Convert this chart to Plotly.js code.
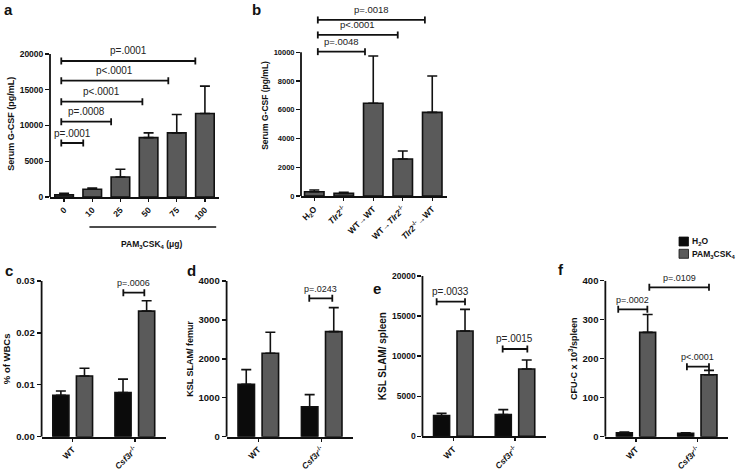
<!DOCTYPE html>
<html><head><meta charset="utf-8">
<script src="https://cdn.plot.ly/plotly-3.0.1.min.js"></script>
<style>html,body{margin:0;padding:0;background:#fff;}#chart{width:744px;height:472px;}</style>
</head><body><div id="chart"></div>
<script>
// ---------- DATA ----------
// panel a : serum G-CSF vs PAM3CSK4 dose
const doseCats = ['0','10','25','50','75','100'];
const doseGcsf = [300,1075,2800,8300,8970,11680];
const doseGcsfErr = [200,185,1080,670,2570,3830];
const doseBrX0 = [-0.1,-0.1,-0.1,-0.1,-0.1];
const doseBrX1 = [0.68,1.67,2.78,3.7,4.66];
const doseBrY = [7550,10530,13330,16270,19020];
const doseBrP = ['p=.0001','p=.0008','p<.0001','p<.0001','p=.0001'];

// panel b : chimeras
const chimCats = ['H2O','Tlr2-/-','WT→WT','WT→Tlr2-/-','Tlr2-/-→WT'];
const chimLabels = ['H<sub>2</sub>O','<i>Tlr2</i><sup>-/-</sup>','WT→WT','WT→<i>Tlr2</i><sup>-/-</sup>','<i>Tlr2</i><sup>-/-</sup>→WT'];
const chimGcsf = [300,185,6450,2575,5820];
const chimGcsfErr = [120,70,3290,555,2530];
const chimBrX0 = [0.12,0.12,0.12];
const chimBrX1 = [1.72,2.83,3.75];
const chimBrY = [10046,11206,12250];
const chimBrP = ['p=.0048','p<.0001','p=.0018'];

// panels c-f : genotypes, H2O vs PAM3CSK4
const genoCats = ['WT','Csf3r-/-'];
const genoLabels = ['WT','<i>Csf3r</i><sup>-/-</sup>'];
const seriesNames = ['H<sub>2</sub>O','PAM<sub>3</sub>CSK<sub>4</sub>'];

const wbcH2O = [0.0080,0.0085];   const wbcH2OErr = [0.0008,0.0026];
const wbcPAM = [0.0117,0.0242];   const wbcPAMErr = [0.0015,0.0020];
const wbcBrX0 = [0.815]; const wbcBrX1 = [1.153]; const wbcBrY = [0.02775]; const wbcBrP = ['p=.0006'];

const femH2O = [1345,771];   const femH2OErr = [377,309];
const femPAM = [2142,2700];  const femPAMErr = [540,616];
const femBrX0 = [0.804]; const femBrX1 = [1.167]; const femBrY = [3556]; const femBrP = ['p=.0243'];

const splH2O = [2578,2703];   const splH2OErr = [291,623];
const splPAM = [13139,8399];  const splPAMErr = [2703,1123];
const splBrX0 = [-0.27,0.8]; const splBrX1 = [0.19,1.2]; const splBrY = [16798,10894]; const splBrP = ['p=.0033','p=.0015'];

const cfuH2O = [10,9];      const cfuH2OErr = [2,1];
const cfuPAM = [267.5,159]; const cfuPAMErr = [46,11];
const cfuBrX0 = [-0.29,0.217,0.83]; const cfuBrX1 = [0.185,1.19,1.19]; const cfuBrY = [326.5,383,179.5]; const cfuBrP = ['p=.0002','p=.0109','p<.0001'];

// ---------- STYLE ----------
const W = 744, H = 472;
const px = v => v / W;
const py = v => 1 - v / H;
const FONT = 'Liberation Sans, Arial, Helvetica, sans-serif';
const INK = '#111';
const COL_H2O = '#0b0b0b';
const COL_PAM = '#5a5a5a';

const traces = [];
const shapes = [];
const annotations = [];
const layout = {
  width: W, height: H,
  margin: {l:0, r:0, t:0, b:0, pad:0},
  paper_bgcolor: '#fff', plot_bgcolor: 'rgba(0,0,0,0)',
  showlegend: false,
  font: {family: FONT, color: INK},
};

function errY(arr, w) {
  return {type:'data', symmetric:false, array: arr, arrayminus: arr.map(()=>0),
          color: INK, thickness: 1.6, width: w};
}

function addAxes(id, xPix, yPix, yRange, yTop, yTicks, yFmt, yTitle, yTitleSize, tickSize, xTickSize, xRange, catArr, catLabels) {
  const xk = 'xaxis' + (id === 1 ? '' : id);
  const yk = 'yaxis' + (id === 1 ? '' : id);
  const xr = id === 1 ? 'x' : 'x' + id;
  const yr = id === 1 ? 'y' : 'y' + id;
  layout[xk] = {
    domain: [px(xPix[0]), px(xPix[1])], anchor: yr, type: 'category',
    categoryorder: 'array', categoryarray: catArr,
    tickvals: catArr, ticktext: catLabels,
    range: xRange, fixedrange: true,
    showline: true, linecolor: INK, linewidth: 1.8,
    ticks: 'outside', ticklen: 3, tickwidth: 1.4, tickcolor: INK,
    tickangle: -45, showgrid: false, zeroline: false,
    tickfont: {family: FONT, size: xTickSize, color: INK, weight: 'bold'},
  };
  layout[yk] = {
    domain: [py(yPix[0]), py(yPix[1])], anchor: xr,
    range: yRange, fixedrange: true,
    showline: false, showgrid: false, zeroline: false,
    tickvals: yTicks, tickformat: yFmt,
    ticks: 'outside', ticklen: 4, tickwidth: 1.4, tickcolor: INK,
    tickfont: {family: FONT, size: tickSize, color: INK, weight: 'bold'},
    title: {text: yTitle, font: {family: FONT, size: yTitleSize, color: INK, weight: 'bold'}, standoff: 3},
  };
  // y-axis line only up to the top tick
  shapes.push({type:'line', xref: xr + ' domain', x0:0, x1:0, yref: yr, y0: yRange[0], y1: yTop,
               line:{color: INK, width: 1.8}});
  return [xr, yr];
}

function addBrackets(xr, yr, x0s, x1s, ys, texts, fsize) {
  ys.forEach((y, i) => {
    const x0 = x0s[i], x1 = x1s[i];
    shapes.push({type:'line', xref:xr, yref:yr, x0:x0, x1:x1, y0:y, y1:y, line:{color:INK, width:1.8}});
    [x0, x1].forEach(xe => shapes.push({type:'line', xref:xr, yref:yr, x0:xe, x1:xe,
      ysizemode:'pixel', yanchor:y, y0:-3.5, y1:3.5, line:{color:INK, width:1.8}}));
    annotations.push({xref:xr, yref:yr, x:(x0+x1)/2, y:y, yanchor:'bottom', xanchor:'center', yshift:2.5,
      showarrow:false, text:texts[i], font:{family:FONT, size:fsize, color:'#222'}});
  });
}

function singleBars(xr, yr, cats, vals, errs) {
  traces.push({type:'bar', x: cats, y: vals, xaxis: xr, yaxis: yr, width: 0.66,
    marker:{color: COL_PAM, line:{color: INK, width:1.6}},
    error_y: errY(errs, 5), hoverinfo:'skip', showlegend:false});
}

function groupBars(xr, yr, h2o, h2oErr, pam, pamErr) {
  traces.push({type:'bar', name: seriesNames[0], x: genoCats, y: h2o, xaxis: xr, yaxis: yr,
    width: 0.26, offset: -0.32, marker:{color: COL_H2O, line:{color: INK, width:1.6}},
    error_y: errY(h2oErr, 5), hoverinfo:'skip', showlegend:false});
  traces.push({type:'bar', name: seriesNames[1], x: genoCats, y: pam, xaxis: xr, yaxis: yr,
    width: 0.26, offset: 0.06, marker:{color: COL_PAM, line:{color: INK, width:1.6}},
    error_y: errY(pamErr, 5), hoverinfo:'skip', showlegend:false});
}

// ---------- PANEL a ----------
let ax = addAxes(1, [50,219], [197,50.4], [0,20500], 20000, [0,5000,10000,15000,20000], 'd',
  'Serum G-CSF (pg/mL)', 9, 8.5, 8.5, [-0.5,5.5], doseCats, doseCats);
singleBars(ax[0], ax[1], doseCats, doseGcsf, doseGcsfErr);
addBrackets(ax[0], ax[1], doseBrX0, doseBrX1, doseBrY, doseBrP, 10);
shapes.push({type:'line', xref: ax[0], x0:0.9, x1:5.4, yref:'paper', y0:py(227), y1:py(227), line:{color:INK, width:1.5}});
annotations.push({xref:'paper', yref:'paper', x:px(151), y:py(245), xanchor:'center', yanchor:'middle', showarrow:false,
  text:'PAM<sub>3</sub>CSK<sub>4</sub> (μg)', font:{family:FONT, size:8.5, color:INK, weight:'bold'}});

// ---------- PANEL b ----------
ax = addAxes(2, [301,447], [196,14.94], [0,12600], 10000, [0,2000,4000,6000,8000,10000], 'd',
  'Serum G-CSF (pg/mL)', 8.5, 7.5, 8.5, [-0.45,4.5], chimCats, chimLabels);
singleBars(ax[0], ax[1], chimCats, chimGcsf, chimGcsfErr);
addBrackets(ax[0], ax[1], chimBrX0, chimBrX1, chimBrY, chimBrP, 9.5);

// ---------- PANEL c ----------
ax = addAxes(3, [41.6,165.9], [436.7,281], [0,0.03], 0.03, [0,0.01,0.02,0.03], '.2f',
  '% of WBCs', 9.5, 9.5, 8.5, [-0.5,1.5], genoCats, genoLabels);
groupBars(ax[0], ax[1], wbcH2O, wbcH2OErr, wbcPAM, wbcPAMErr);
addBrackets(ax[0], ax[1], wbcBrX0, wbcBrX1, wbcBrY, wbcBrP, 9);

// ---------- PANEL d ----------
ax = addAxes(4, [226.6,353.4], [436.7,281], [0,4000], 4000, [0,1000,2000,3000,4000], 'd',
  'KSL SLAM/ femur', 9, 9.5, 8.5, [-0.5,1.5], genoCats, genoLabels);
groupBars(ax[0], ax[1], femH2O, femH2OErr, femPAM, femPAMErr);
addBrackets(ax[0], ax[1], femBrX0, femBrX1, femBrY, femBrP, 9);

// ---------- PANEL e ----------
ax = addAxes(5, [422.45,545.85], [436.3,276], [0,20000], 20000, [0,5000,10000,15000,20000], 'd',
  'KSL SLAM/ spleen', 10, 8.5, 8.5, [-0.5,1.5], genoCats, genoLabels);
groupBars(ax[0], ax[1], splH2O, splH2OErr, splPAM, splPAMErr);
addBrackets(ax[0], ax[1], splBrX0, splBrX1, splBrY, splBrP, 10);

// ---------- PANEL f ----------
ax = addAxes(6, [605.35,728], [436.7,280.7], [0,400], 400, [0,100,200,300,400], 'd',
  'CFU-C x 10<sup>3</sup>/spleen', 9, 9.5, 8.5, [-0.5,1.5], genoCats, genoLabels);
groupBars(ax[0], ax[1], cfuH2O, cfuH2OErr, cfuPAM, cfuPAMErr);
addBrackets(ax[0], ax[1], cfuBrX0, cfuBrX1, cfuBrY, cfuBrP, 9);

// ---------- legend (swatches in series colours) ----------
[COL_H2O, COL_PAM].forEach((c, i) => {
  const top = 237 + i * 12.3;
  shapes.push({type:'rect', xref:'paper', yref:'paper', x0:px(679), x1:px(688.5), y0:py(top+9), y1:py(top),
    fillcolor:c, line:{color:INK, width:0.8}});
  annotations.push({xref:'paper', yref:'paper', x:px(690), y:py(top+4.7), xanchor:'left', yanchor:'middle',
    showarrow:false, text:seriesNames[i], font:{family:FONT, size:8.5, color:INK, weight:'bold'}});
});

// ---------- panel letters ----------
[['a',2,20],['b',250,20],['c',3,281],['d',185,281],['e',371,299],['f',556,280]].forEach(l => {
  annotations.push({xref:'paper', yref:'paper', x:px(l[1]), y:py(l[2]), xanchor:'left', yanchor:'bottom',
    showarrow:false, text:l[0], font:{family:FONT, size:15, color:INK, weight:'bold'}});
});

layout.shapes = shapes;
layout.annotations = annotations;
Plotly.newPlot('chart', traces, layout, {staticPlot:true, displayModeBar:false});
</script></body></html>
